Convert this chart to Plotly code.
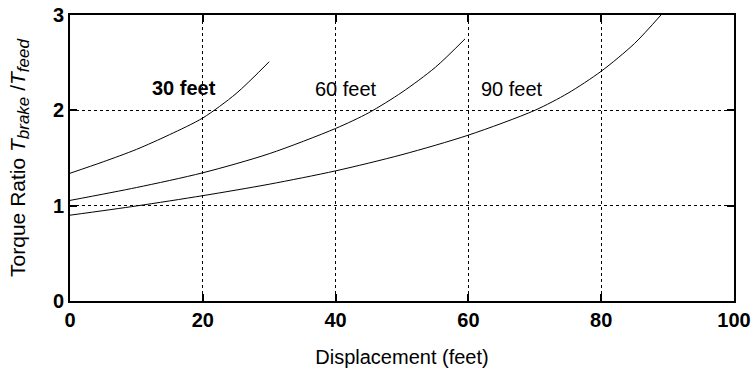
import plotly.graph_objects as go

# Data
x_30 = [0, 5, 10, 15, 20, 25, 30]
y_30 = [1.34, 1.46, 1.59, 1.745, 1.92, 2.175, 2.51]

x_60 = [0, 10, 20, 30, 40, 45, 50, 55, 59.5]
y_60 = [1.055, 1.19, 1.345, 1.545, 1.81, 1.975, 2.19, 2.45, 2.75]

x_90 = [0, 10, 20, 30, 40, 50, 60, 70, 75, 80, 85, 89]
y_90 = [0.90, 0.997, 1.105, 1.225, 1.365, 1.535, 1.74, 2.0, 2.18, 2.41, 2.70, 3.0]

label_text = ["30 feet", "60 feet", "90 feet"]
label_x = [17.1, 41.5, 66.6]
label_y = [2.23, 2.22, 2.22]

x_ticks = [0, 20, 40, 60, 80, 100]
y_ticks = [0, 1, 2, 3]

FONT = "Liberation Sans, Arial, sans-serif"

fig = go.Figure()
for xs, ys in [(x_30, y_30), (x_60, y_60), (x_90, y_90)]:
    fig.add_trace(go.Scatter(x=xs, y=ys, mode="lines",
                             line=dict(color="black", width=1, shape="spline", smoothing=0.8),
                             showlegend=False, hoverinfo="skip"))

for i, (t, lx, ly) in enumerate(zip(label_text, label_x, label_y)):
    txt = f"<b>{t}</b>" if i == 0 else t
    fig.add_annotation(x=lx, y=ly, text=txt, showarrow=False,
                       font=dict(family=FONT, size=20, color="black"),
                       xanchor="center", yanchor="middle")

axis_common = dict(
    showline=True, linecolor="black", linewidth=2, mirror="ticks",
    ticks="inside", ticklen=7, tickwidth=2, tickcolor="black",
    showgrid=True, gridcolor="black", gridwidth=1, griddash="dot",
    zeroline=False, automargin=False,
    tickfont=dict(family=FONT, size=20, color="black", weight="bold"),
)

y_title = ("Torque Ratio <i>T</i><sub><span style='font-size:17px'><i>brake</i></span></sub>"
           " /<i>T</i><sub><span style='font-size:17px'><i>feed</i></span></sub>")

fig.update_xaxes(range=[0, 100], tickvals=x_ticks, ticktext=[str(v) for v in x_ticks],
                 title=dict(text="Displacement (feet)", font=dict(family=FONT, size=20, color="black"),
                            standoff=20),
                 **axis_common)
fig.update_yaxes(range=[0, 3], tickvals=y_ticks, ticktext=[str(v) for v in y_ticks],
                 title=dict(text=y_title, font=dict(family=FONT, size=21, color="black"), standoff=22),
                 **axis_common)

fig.update_layout(
    width=754, height=373,
    margin=dict(l=70, r=20, t=15, b=72),
    plot_bgcolor="white", paper_bgcolor="white",
    font=dict(family=FONT, color="black"),
)

fig.write_html("out.html")
